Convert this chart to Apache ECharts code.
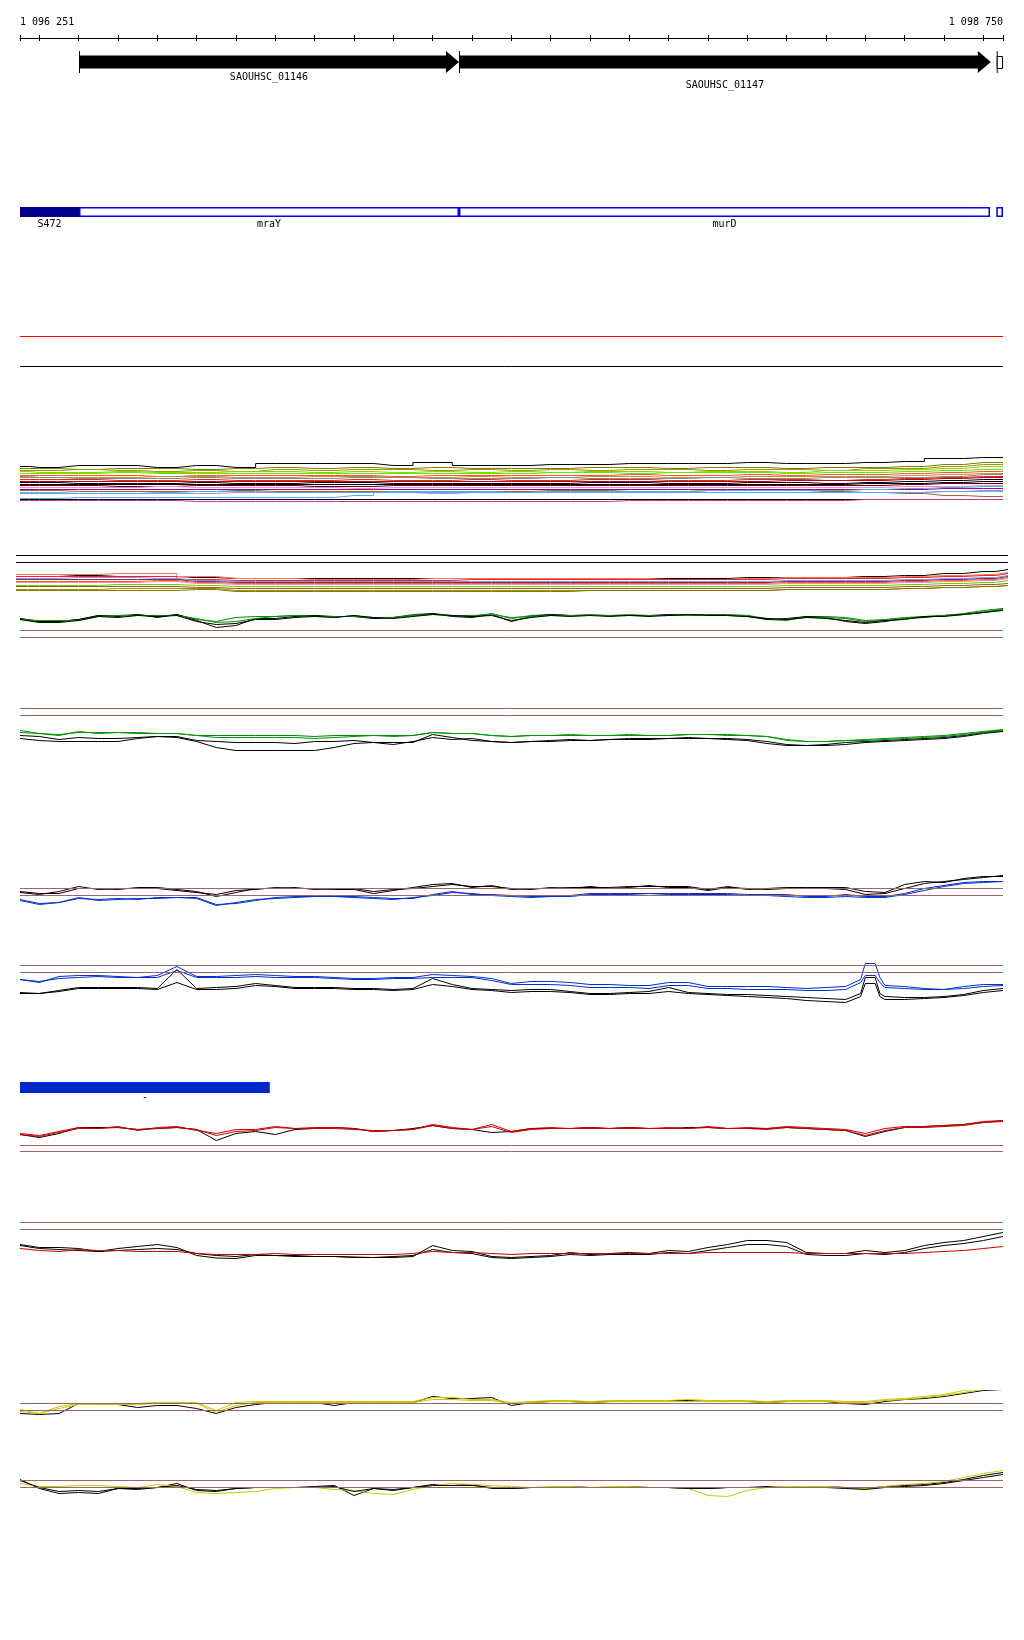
<!DOCTYPE html>
<html>
<head>
<meta charset="utf-8">
<script src="https://cdn.jsdelivr.net/npm/echarts@6/dist/echarts.min.js"></script>
<style>
  html, body { margin: 0; padding: 0; background: #ffffff; }
  #chart { width: 1024px; height: 1640px; }
</style>
</head>
<body>
<div id="chart"></div>
<script>
// window shown (bp)
const winStart = 1096251;
const winEnd = 1098750;

// ruler ticks / labels
const tickPositions = [1096251, 1096300, 1096400, 1096500, 1096600, 1096700, 1096800, 1096900, 1097000,
  1097100, 1097200, 1097300, 1097400, 1097500, 1097600, 1097700, 1097800, 1097900, 1098000, 1098100,
  1098200, 1098300, 1098400, 1098500, 1098600, 1098700, 1098750];
const rulerLabels = [1096251, 1098750];

// genes (top track)
const geneStart = [1096401, 1097367, 1098734];
const geneEnd = [1097367, 1098719, 1098750];
const geneStrand = [1, 1, 0];
const geneName = ['SAOUHSC_01146', 'SAOUHSC_01147', ''];

// annotated regions (blue track)
const regionStart = [1096251, 1096401, 1097367, 1098733];
const regionEnd = [1096401, 1097367, 1098717, 1098750];
const regionFilled = [1, 0, 0, 0];
const regionName = ['S472', 'mraY', 'murD', ''];

// lone bar
const barStart = [1096251];
const barEnd = [1096886];
const barName = ['-'];

// sampling positions
const pos100 = [1096251, 1096300, 1096400, 1096500, 1096600, 1096700, 1096800, 1096900, 1097000, 1097100,
  1097200, 1097300, 1097400, 1097500, 1097600, 1097700, 1097800, 1097900, 1098000, 1098100, 1098200,
  1098300, 1098400, 1098500, 1098600, 1098700, 1098750];
const posB = [1096241, 1096300, 1096400, 1096500, 1096600, 1096700, 1096800, 1096900, 1097000, 1097100,
  1097200, 1097300, 1097400, 1097500, 1097600, 1097700, 1097800, 1097900, 1098000, 1098100, 1098200,
  1098300, 1098400, 1098500, 1098600, 1098700, 1098763];
const pos50 = [1096251, 1096300, 1096350, 1096400, 1096450, 1096500, 1096550, 1096600, 1096650, 1096700,
  1096750, 1096800, 1096850, 1096900, 1096950, 1097000, 1097050, 1097100, 1097150, 1097200, 1097250,
  1097300, 1097350, 1097400, 1097450, 1097500, 1097550, 1097600, 1097650, 1097700, 1097750, 1097800,
  1097850, 1097900, 1097950, 1098000, 1098050, 1098100, 1098150, 1098200, 1098250, 1098300, 1098350,
  1098400, 1098450, 1098500, 1098550, 1098600, 1098650, 1098700, 1098750];
const posE = [1096251, 1096300, 1096350, 1096400, 1096450, 1096500, 1096550, 1096600, 1096650, 1096700,
  1096750, 1096800, 1096850, 1096900, 1096950, 1097000, 1097050, 1097100, 1097150, 1097200, 1097250,
  1097300, 1097350, 1097400, 1097450, 1097500, 1097550, 1097600, 1097650, 1097700, 1097750, 1097800,
  1097850, 1097900, 1097950, 1098000, 1098050, 1098100, 1098150, 1098200, 1098250, 1098300, 1098350,
  1098388, 1098400, 1098425, 1098437, 1098450, 1098500, 1098550, 1098600, 1098650, 1098700, 1098750];

// track A: many samples
const trackA = [
  [39,38,40,40,38,40,38,42,42,42,40,43,40,40,41,41,42,42,42,43,42,42,43,44,47,48,48],
  [37,37,36,37,37,36,37,38,37,38,37,38,37,37,37,38,38,37,38,38,37,38,38,39,41,43,43],
  [35,35,36,35,34,35,34,36,35,36,36,35,36,35,36,35,36,36,35,36,36,35,37,37,39,41,41],
  [34,33,33,34,33,33,34,34,33,34,33,34,33,34,33,34,34,33,34,34,33,35,35,36,37,39,39],
  [32,32,32,33,32,32,32,32,32,32,32,32,32,32,33,33,32,33,33,33,32,33,33,34,35,36,36],
  [30,30,30,30,29,30,30,30,30,30,29,30,30,30,30,30,31,30,30,31,30,31,31,32,33,34,34],
  [29,28,28,28,29,29,28,28,29,29,28,28,29,28,28,29,29,28,28,29,29,29,29,30,31,32,32],
  [28,28,27,27,27,28,27,27,27,28,28,27,27,27,28,27,27,27,28,27,27,28,28,28,29,31,31],
  [26,26,26,25,25,26,25,25,25,26,25,25,26,25,25,26,26,25,25,26,26,25,26,27,28,29,29],
  [24,24,24,24,24,24,24,24,24,24,24,24,24,24,24,24,24,24,24,24,25,25,25,26,27,28,28],
  [23,23,22,22,22,23,22,22,23,23,22,22,22,22,22,23,23,22,22,23,23,22,23,24,25,26,26],
  [21,21,21,21,21,21,21,21,21,21,21,21,21,21,21,21,21,21,21,21,21,21,22,22,23,24,24],
  [20,20,20,19,19,20,20,20,19,19,20,20,20,20,20,20,20,20,20,20,20,20,20,21,22,22,22],
  [18,18,18,18,19,18,18,18,18,17,18,18,18,18,18,18,18,18,18,18,18,18,18,19,19,20,20],
  [16,16,16,16,16,16,16,16,16,16,16,16,16,16,16,16,16,16,16,16,16,16,16,16,17,17,17],
  [15,15,14,14,14,14,15,14,14,14,14,14,14,14,15,15,14,14,15,15,15,14,13,12,10,9,9],
  [13,13,12,12,12,12,13,13,13,13,13,12,13,13,13,13,13,13,13,13,13,13,13,13,14,14,14],
  [12,12,12,12,13,14,14,13,13,13,14,14,14,13,14,14,14,14,15,15,15,15,16,17,18,19,19],
  [7,7,8,8,8,8,8,8,8,10,13,13,13,13,13,13,13,13,13,13,13,13,13,13,14,15,15],
  [6,6,6,6,6,6,6,6,6,6,6,6,6,6,6,6,6,6,6,6,6,6,6,6,6,6,6],
  [5,5,5,5,5,4,4,4,4,4,4,4,4,4,4,4,5,5,5,5,5,5,6,6,6,6,6]
];
const colorsA = ['#000000','#808000','#999900','#99cc00','#55ee00','#ff5522','#cc8844','#888888','#cc3311',
  '#cc0000','#000033','#000000','#660000','#ff88bb','#990099','#996633','#9999cc','#55aaee','#55aaee',
  '#000000','#cc3399'];

// track B: many samples
const trackB = [
  [21,21,20,19,19,18,17,17,17,17,17,17,17,17,17,17,17,17,17,18,18,18,19,20,22,24,26],
  [21,21,21,22,22,19,17,17,16,16,16,17,17,17,17,17,17,16,16,17,18,18,18,19,20,21,23],
  [19,19,19,19,19,16,15,15,15,15,15,15,16,16,16,16,16,16,16,16,17,17,17,18,19,20,22],
  [17,17,18,18,17,15,14,14,14,14,14,14,14,14,14,14,14,14,14,14,15,15,15,16,17,18,20],
  [16,16,16,16,16,14,13,13,13,13,13,13,13,13,13,13,13,13,13,13,14,14,14,15,16,17,19],
  [14,14,14,14,15,13,12,12,12,12,12,12,12,12,12,12,12,12,12,12,13,13,13,14,15,16,18],
  [13,13,13,13,14,12,11,11,11,11,11,11,11,11,11,11,11,11,11,11,12,12,12,13,14,15,17],
  [10,10,10,11,11,10,9,9,9,9,9,9,9,9,9,9,9,9,9,9,10,10,10,11,12,13,15],
  [9,9,9,9,9,8,7,7,7,7,7,7,7,7,7,7,7,7,7,7,8,8,8,9,10,11,12],
  [6,6,6,7,7,7,5,5,5,5,5,5,5,5,5,5,5,5,5,5,6,6,6,7,8,9,10],
  [5,5,5,5,5,6,4,4,4,4,4,4,4,4,4,5,5,5,5,5,6,6,6,7,8,9,10]
];
const colorsB = ['#000000','#ff7755','#ee2222','#7799ee','#882288','#ee6611','#ff88aa','#55dd00','#aa5522',
  '#999900','#887700'];

// green / black pair track
const b2Green1 = [22,19,19,21,25,25,26,24,26,21,19,23,24,24,25,25,23,25,22,23,26,27,25,24,27,22,25,26,25,26,25,25,25,25,26,26,26,25,21,20,24,24,23,20,21,23,24,25,27,30,32];
const b2Green2 = [21,20,20,20,24,25,25,25,25,22,18,19,22,24,25,24,24,24,23,23,25,26,25,25,26,23,24,25,25,25,25,26,25,25,25,26,25,25,22,21,23,23,22,19,20,22,24,25,26,29,31];
const b2Black1 = [22,19,19,21,25,24,26,23,26,20,13,15,22,22,24,25,24,24,22,23,25,27,24,23,26,19,24,26,25,25,25,25,25,26,25,26,25,24,21,22,24,23,19,17,19,22,23,25,26,28,31];
const b2Black2 = [21,18,18,20,24,23,25,24,25,19,16,17,21,21,23,24,23,25,23,22,24,26,25,24,25,20,23,25,24,25,24,25,24,25,26,25,25,24,22,21,23,22,20,18,20,21,24,24,26,28,30];

const cGreen1 = [30,27,25,29,27,28,27,27,27,25,25,25,25,25,25,24,25,25,25,25,25,28,27,27,25,24,25,25,26,25,25,26,25,25,26,26,26,25,24,21,19,19,20,21,22,23,24,25,27,29,31];
const cGreen2 = [28,27,26,28,28,28,28,27,27,25,23,23,23,23,23,22,23,24,25,24,25,28,27,27,25,24,25,25,25,25,25,25,25,25,26,26,25,25,24,20,19,19,20,20,21,22,23,24,26,28,30];
const cBlack1 = [25,24,21,23,22,22,23,24,24,20,19,18,18,18,17,19,19,20,18,18,18,26,23,20,19,18,19,20,21,20,21,22,22,22,23,22,22,21,19,16,15,16,18,19,20,21,22,23,25,28,30];
const cBlack2 = [22,20,19,19,19,19,22,24,23,19,13,10,10,10,10,10,13,17,18,16,19,23,21,22,19,18,19,19,20,20,21,21,21,22,22,22,21,20,17,15,15,15,16,18,19,20,21,22,24,27,29];

const dBlack1 = [18,16,19,24,21,22,22,22,20,18,16,20,21,23,22,22,21,21,17,20,23,26,27,23,25,21,22,22,23,23,23,24,24,24,24,21,24,21,22,23,23,23,23,19,18,26,29,28,32,34,34];
const dBlack2 = [19,17,17,22,22,21,23,23,21,19,14,18,22,22,23,21,22,22,19,21,22,24,26,24,24,22,21,23,22,24,22,23,25,23,23,20,23,22,21,22,22,22,21,16,17,22,27,29,31,33,35];
const dBlue1 = [11,7,8,13,10,11,12,12,13,13,6,7,10,13,14,14,14,14,13,12,12,16,19,16,16,15,14,14,15,17,17,17,17,17,17,17,17,16,16,16,14,14,16,14,14,17,22,25,28,29,29];
const dBlue2 = [10,6,8,12,11,12,11,13,13,12,5,8,11,12,13,14,14,13,12,11,13,15,18,17,15,14,13,14,14,16,16,16,17,16,16,16,16,15,15,14,13,13,14,13,13,16,20,24,27,28,29];

const eBlue1 = [31,28,34,35,35,34,33,35,44,34,34,35,36,35,34,34,33,32,32,33,33,36,35,34,32,27,29,29,28,26,26,25,25,28,28,24,24,24,24,23,22,23,24,31,47,47,33,25,24,22,21,24,26,26];
const eBlue2 = [31,29,32,33,34,33,33,33,40,33,33,33,34,33,33,33,32,31,31,32,32,33,33,33,30,26,26,26,25,23,23,23,22,25,25,22,22,21,21,21,20,20,21,28,35,35,28,23,22,21,21,22,24,25];
const eBlack1 = [18,17,20,23,23,23,23,22,41,22,23,24,27,25,23,23,23,22,22,21,22,32,26,22,21,20,21,21,19,17,17,18,19,23,18,17,16,16,15,14,13,12,11,17,33,33,17,14,13,13,14,16,20,22];
const eBlack2 = [17,17,19,22,22,22,22,21,28,21,21,22,25,24,22,22,22,21,21,20,21,26,24,21,20,18,19,19,18,16,16,17,17,19,17,16,15,14,13,12,10,9,8,14,27,27,14,11,11,12,13,15,18,20];

const fRed1 = [22,20,24,28,27,29,25,28,29,25,22,26,26,29,27,28,28,27,24,25,26,31,28,26,31,24,27,28,27,28,27,28,27,28,27,29,27,28,27,29,28,27,26,22,27,29,29,30,31,34,35];
const fRed2 = [21,19,23,27,27,28,26,27,28,26,20,24,25,28,27,27,27,26,25,25,26,30,27,26,29,23,26,27,27,27,27,27,27,27,27,28,27,27,26,28,27,26,25,20,25,28,28,29,30,33,34];
const fBlack1 = [21,18,22,28,28,28,26,27,28,26,15,22,24,21,26,27,28,27,24,25,27,30,27,26,23,24,27,27,27,28,27,28,27,27,28,28,27,27,27,28,27,26,25,19,24,28,29,30,31,33,35];

const gBlack1 = [21,18,18,17,14,17,19,21,18,10,7.5,7,10,10,9,9,9,8.5,8,8,9,20,15,14,9,8,9,10,13,11,12,13,12,15,14,18,21,25,25,23,13,12,12,15,13,15,20,23,25,29,33];
const gBlack2 = [20,17,16,15,14,15,16,17,16,12,10,9,11,10,10,9,9,8,8,9,10,16,13,12,8,7,8,9,11,10,11,11,11,13,12,15,18,21,21,19,11,10,10,12,11,13,17,20,22,25,29];
const gRed1 = [17,15,14,16,15,15,14,14,14,12,11,11,11,12,11,11,11,11,11,11,12,14,13,13,12,11,12,12,12,12,12,12,12,12,12,13,13,13,13,13,12,12,12,12,12,12,13,14,15,17,19];

const hYellow1 = [11,7,14,17,17,17,17,18,18,18,10,18,19,19,19,19,19,19,19,19,19,23,23,21,21,18,19,20,20,19,20,20,20,20,21,20,20,20,19,20,20,20,19,19,21,22,24,26,30,32,32];
const hYellow2 = [9,7,12,16,16,16,16,17,17,17,8,15,18,18,18,18,18,18,18,18,18,21,21,20,20,17,18,19,19,18,19,19,19,19,19,19,19,19,18,19,19,19,18,18,20,21,23,25,28,31,31];
const hBlack1 = [7,6,7,17,16,16,13,15,15,12,7,13,16,18,18,18,15,18,18,18,18,24,22,22,23,15,18,19,19,18,19,19,19,20,20,19,19,19,18,19,19,19,17,16,19,21,22,24,27,30,31];

const iBlack1 = [21,12,7,8,7,12,11,13,17,10,9,12,13,13,13,14,15,5,12,10,13,16,15,16,12,12,13,13,14,13,13,14,13,13,12,12,13,13,14,13,13,14,13,12,14,15,16,18,21,25,28];
const iYellow1 = [17,14,14,15,15,14,13,16,14,8,7,8,9,12,13,13,11,10,7,6,11,15,17,16,15,14,13,14,14,13,14,14,13,13,12,5,4,10,13,14,14,14,13,12,14,16,17,19,23,27,30];
const iBlack2 = [20,13,9,10,9,12,12,13,15,11,10,12,13,13,13,13,14,9,12,11,13,15,15,15,13,12,13,13,13,13,13,13,13,13,12,12,13,13,13,13,13,13,12,11,13,14,15,17,20,23,26];

// ---------------------------------------------------------------
const FONT = '10px "DejaVu Sans Mono", monospace';
const BROWN = '#a06464';
const grids = [], xAxes = [], yAxes = [], series = [];

// every grid gets exactly one x and one y axis, so indices line up
function addGrid(top, height, left, right, xmin, xmax, ymax) {
  const i = grids.length;
  grids.push({ left: left, right: right, top: top, height: height });
  xAxes.push({ type: 'value', gridIndex: i, min: xmin, max: xmax, show: false });
  yAxes.push({ type: 'value', gridIndex: i, min: 0, max: ymax, show: false });
  return i;
}

function addLines(gi, pos, lines, colors, step, refs) {
  lines.forEach(function (vals, k) {
    const s = {
      type: 'line', xAxisIndex: gi, yAxisIndex: gi,
      data: pos.map(function (p, j) { return [p, vals[j]]; }),
      symbol: 'none', showSymbol: false, silent: true, step: step || false,
      lineStyle: { width: 1, color: colors[k] }, itemStyle: { color: colors[k] }, z: 3
    };
    if (k === 0 && refs) {
      s.markLine = {
        silent: true, symbol: 'none', label: { show: false },
        data: refs.map(function (r) {
          return { yAxis: r[0], lineStyle: { color: r[1], width: 1, type: 'solid' } };
        })
      };
    }
    series.push(s);
  });
}

function fmtBp(v) {
  return String(v).replace(/\B(?=(\d{3})+(?!\d))/g, ' ');
}

// ruler: one axis for the line, upper ticks and left label
const g0 = addGrid(38, 10, 20, 21, winStart, winEnd, 1);
xAxes[g0] = {
  type: 'value', gridIndex: g0, min: winStart, max: winEnd, position: 'top',
  axisLine: { show: true, onZero: false, lineStyle: { color: '#000', width: 1 } },
  axisTick: { show: true, customValues: tickPositions, length: 3, lineStyle: { color: '#000' } },
  axisLabel: { show: true, customValues: [rulerLabels[0]], align: 'left', margin: 11,
    formatter: fmtBp, color: '#000', fontFamily: '"DejaVu Sans Mono", monospace', fontSize: 10 },
  splitLine: { show: false }
};
// second axis on a twin grid: lower ticks and right label
const g0b = addGrid(38, 10, 20, 21, winStart, winEnd, 1);
xAxes[g0b] = {
  type: 'value', gridIndex: g0b, min: winStart, max: winEnd, position: 'top',
  axisLine: { show: false, onZero: false },
  axisTick: { show: true, inside: true, customValues: tickPositions, length: 3, lineStyle: { color: '#000' } },
  axisLabel: { show: true, customValues: [rulerLabels[1]], align: 'right', margin: 11,
    formatter: fmtBp, color: '#000', fontFamily: '"DejaVu Sans Mono", monospace', fontSize: 10 },
  splitLine: { show: false }
};

// genes
const gGene = addGrid(51, 22, 20, 21, winStart, winEnd, 1);
series.push({
  type: 'custom', xAxisIndex: gGene, yAxisIndex: gGene, silent: true, clip: false,
  data: geneStart.map(function (s, i) { return [s, geneEnd[i], geneStrand[i], i]; }),
  renderItem: function (params, api) {
    const a = api.coord([api.value(0), 0.5]);
    const x0 = a[0], yc = a[1];
    const x1 = api.coord([api.value(1), 0.5])[0];
    const idx = api.value(3);
    const kids = [{ type: 'line', shape: { x1: x0 + 0.5, y1: yc - 11, x2: x0 + 0.5, y2: yc + 11 },
      style: { stroke: '#000', lineWidth: 1 } }];
    if (api.value(2) === 1) {
      const h = 13;
      kids.push({ type: 'polygon', shape: { points: [[x0, yc - 6.5], [x1 - h, yc - 6.5], [x1 - h, yc - 11],
        [x1, yc], [x1 - h, yc + 11], [x1 - h, yc + 6.5], [x0, yc + 6.5]] }, style: { fill: '#000' } });
    } else {
      kids.push({ type: 'rect', shape: { x: x0 + 0.5, y: yc - 5.5, width: x1 - x0 - 1, height: 12 },
        style: { fill: '#fff', stroke: '#000', lineWidth: 1 } });
    }
    if (geneName[idx]) {
      kids.push({ type: 'text', style: { text: geneName[idx], x: (x0 + x1) / 2, y: yc + 15 + (idx % 2) * 8,
        align: 'center', verticalAlign: 'middle', font: FONT, fill: '#000' } });
    }
    return { type: 'group', children: kids };
  }
});

// blue regions
const gReg = addGrid(207, 10, 20, 21, winStart, winEnd, 1);
series.push({
  type: 'custom', xAxisIndex: gReg, yAxisIndex: gReg, silent: true, clip: false,
  data: regionStart.map(function (s, i) { return [s, regionEnd[i], regionFilled[i], i]; }),
  renderItem: function (params, api) {
    const p0 = api.coord([api.value(0), 1]);
    const p1 = api.coord([api.value(1), 0]);
    const idx = api.value(3);
    const kids = [];
    if (api.value(2) === 1) {
      kids.push({ type: 'rect', shape: { x: p0[0], y: p0[1], width: p1[0] - p0[0], height: p1[1] - p0[1] },
        style: { fill: '#00008c' } });
    } else {
      kids.push({ type: 'rect', shape: { x: p0[0] + 0.75, y: p0[1] + 0.75, width: p1[0] - p0[0] - 1.5,
        height: p1[1] - p0[1] - 1.5 }, style: { fill: '#fff', stroke: '#0000e6', lineWidth: 1.5 } });
    }
    if (regionName[idx]) {
      kids.push({ type: 'text', style: { text: regionName[idx], x: (p0[0] + p1[0]) / 2, y: p1[1] + 7,
        align: 'center', verticalAlign: 'middle', font: FONT, fill: '#000' } });
    }
    return { type: 'group', children: kids };
  }
});

// signal tracks (tops offset by half a pixel so 1px lines stay crisp)
const gA = addGrid(330.5, 175, 20, 21, winStart, winEnd, 175);
addLines(gA, pos100, trackA, colorsA, 'middle', [[169, '#ff0000'], [139, '#000000']]);

const gB = addGrid(550.5, 45, 16, 16, posB[0], posB[posB.length - 1], 45);
addLines(gB, posB, trackB, colorsB, 'middle', [[40, '#000000'], [33, '#000000']]);

const gB2 = addGrid(600.5, 40, 20, 21, winStart, winEnd, 40);
addLines(gB2, pos50, [b2Green1, b2Black1, b2Green2, b2Black2], ['#008c00', '#000000', '#009900', '#000000'],
  false, [[10, BROWN], [3, BROWN]]);

const gC = addGrid(700.5, 60, 20, 21, winStart, winEnd, 60);
addLines(gC, pos50, [cGreen1, cBlack1, cGreen2, cBlack2], ['#008c00', '#000000', '#009900', '#000000'],
  false, [[52, BROWN], [45, BROWN]]);

const gD = addGrid(865.5, 45, 20, 21, winStart, winEnd, 45);
addLines(gD, pos50, [dBlack1, dBlue1, dBlack2, dBlue2], ['#000000', '#0030d0', '#000000', '#0030d0'],
  false, [[22, BROWN], [15, BROWN]]);

const gE = addGrid(950.5, 60, 20, 21, winStart, winEnd, 60);
addLines(gE, posE, [eBlue1, eBlack1, eBlue2, eBlack2], ['#0030d0', '#000000', '#0030d0', '#000000'],
  false, [[45, BROWN], [38, BROWN]]);

// lone blue bar
const gBar = addGrid(1082, 11, 20, 21, winStart, winEnd, 1);
series.push({
  type: 'custom', xAxisIndex: gBar, yAxisIndex: gBar, silent: true, clip: false,
  data: barStart.map(function (s, i) { return [s, barEnd[i], i]; }),
  renderItem: function (params, api) {
    const p0 = api.coord([api.value(0), 1]);
    const p1 = api.coord([api.value(1), 0]);
    return { type: 'group', children: [
      { type: 'rect', shape: { x: p0[0], y: p0[1], width: p1[0] - p0[0], height: p1[1] - p0[1] },
        style: { fill: '#0028c8' } },
      { type: 'text', style: { text: barName[api.value(2)], x: (p0[0] + p1[0]) / 2, y: p1[1] + 4,
        align: 'center', verticalAlign: 'middle', font: FONT, fill: '#000' } }
    ] };
  }
});

const gF = addGrid(1110.5, 45, 20, 21, winStart, winEnd, 45);
addLines(gF, pos50, [fBlack1, fRed1, fRed2], ['#000000', '#cc0000', '#cc0000'],
  false, [[10, BROWN], [4, BROWN]]);

const gG = addGrid(1215.5, 50, 20, 21, winStart, winEnd, 50);
addLines(gG, pos50, [gBlack1, gBlack2, gRed1], ['#000000', '#000000', '#cc0000'],
  false, [[43, BROWN], [36, BROWN]]);

const gH = addGrid(1390.5, 30, 20, 21, winStart, winEnd, 30);
addLines(gH, pos50, [hBlack1, hYellow1, hYellow2], ['#000000', '#c8c800', '#c8c800'],
  false, [[17, BROWN], [10, BROWN]]);

const gI = addGrid(1470.5, 30, 20, 21, winStart, winEnd, 30);
addLines(gI, pos50, [iBlack1, iYellow1, iBlack2], ['#000000', '#c8c800', '#000000'],
  false, [[20, BROWN], [13, BROWN]]);

const chart = echarts.init(document.getElementById('chart'), null, { renderer: 'canvas' });
chart.setOption({
  backgroundColor: '#ffffff',
  animation: false,
  grid: grids,
  xAxis: xAxes,
  yAxis: yAxes,
  series: series
});
</script>
</body>
</html>
